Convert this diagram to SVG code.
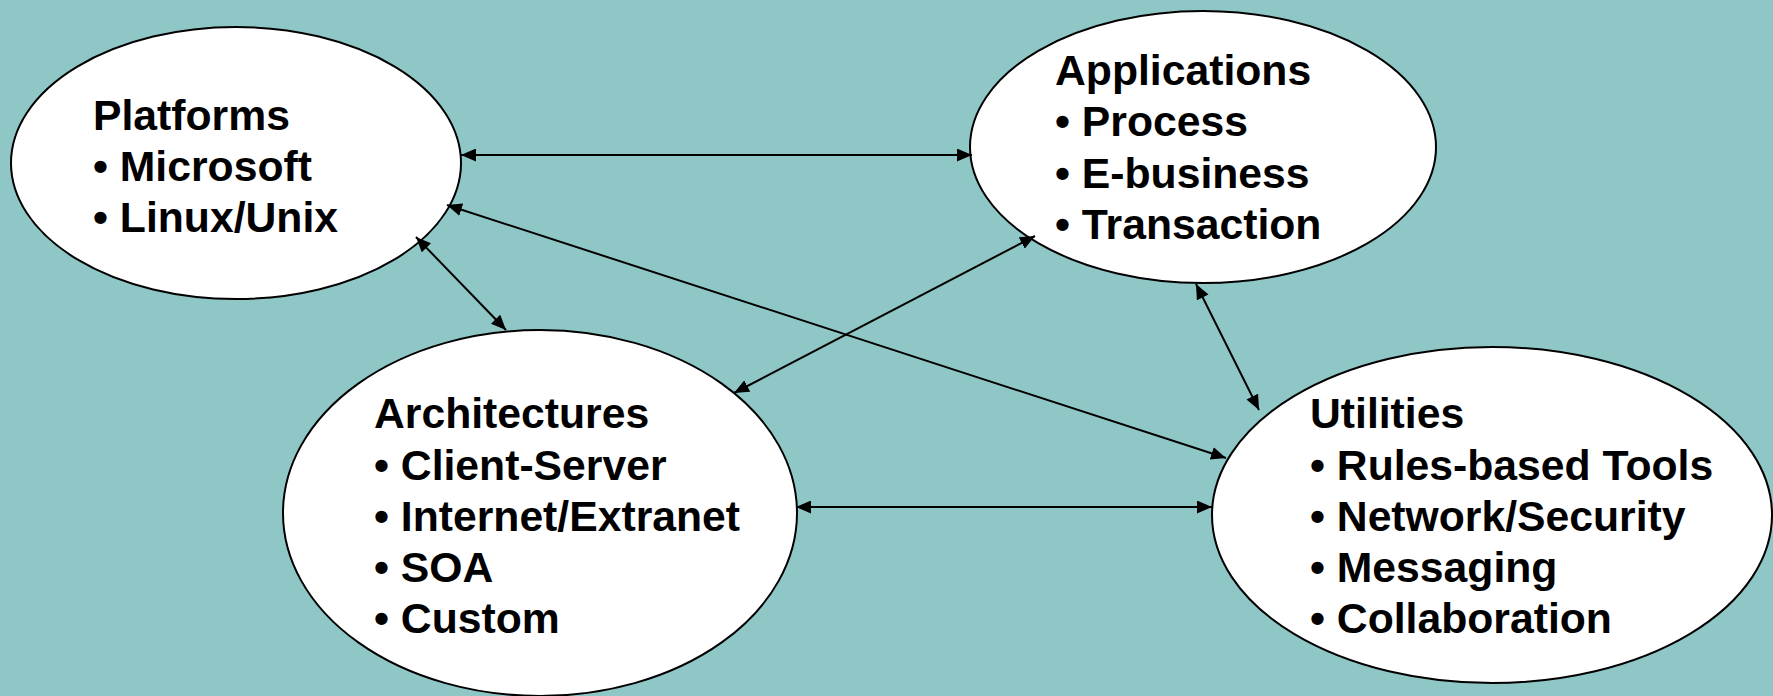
<svg xmlns="http://www.w3.org/2000/svg" width="1773" height="696" viewBox="0 0 1773 696">
<style>
.node{fill:#ffffff;stroke:#000000;stroke-width:2}
.lbl{font-family:"Liberation Sans",Arial,sans-serif;font-weight:bold;font-size:42.7px;fill:#000000}
.conn{stroke:#000000;stroke-width:2;fill:none;marker-start:url(#ah);marker-end:url(#ah)}
</style>
<defs>
<marker id="ah" viewBox="0 0 15 13" refX="15" refY="6.5" markerUnits="userSpaceOnUse" markerWidth="15" markerHeight="13" orient="auto-start-reverse">
<path d="M0,0 L15,6.5 L0,13 z" fill="#000000"/>
</marker>
</defs>
<rect x="0" y="0" width="1773" height="696" fill="#8FC6C6"/>
<g id="platforms">
<ellipse class="node" cx="236" cy="163" rx="225" ry="136"/>
<text class="lbl" x="93" y="130">Platforms</text>
<text class="lbl" x="93" y="181">• Microsoft</text>
<text class="lbl" x="93" y="232">• Linux/Unix</text>
</g>
<g id="applications">
<ellipse class="node" cx="1203" cy="147" rx="233" ry="136"/>
<text class="lbl" x="1055" y="85">Applications</text>
<text class="lbl" x="1055" y="136">• Process</text>
<text class="lbl" x="1055" y="188">• E-business</text>
<text class="lbl" x="1055" y="239">• Transaction</text>
</g>
<g id="architectures">
<ellipse class="node" cx="540" cy="513" rx="257" ry="183"/>
<text class="lbl" x="374" y="428">Architectures</text>
<text class="lbl" x="374" y="480">• Client-Server</text>
<text class="lbl" x="374" y="531">• Internet/Extranet</text>
<text class="lbl" x="374" y="582">• SOA</text>
<text class="lbl" x="374" y="633">• Custom</text>
</g>
<g id="utilities">
<ellipse class="node" cx="1492" cy="515" rx="280" ry="168"/>
<text class="lbl" x="1310" y="428">Utilities</text>
<text class="lbl" x="1310" y="480">• Rules-based Tools</text>
<text class="lbl" x="1310" y="531">• Network/Security</text>
<text class="lbl" x="1310" y="582">• Messaging</text>
<text class="lbl" x="1310" y="633">• Collaboration</text>
</g>
<g id="connectors">
<line class="conn" x1="461" y1="155" x2="972" y2="155"/>
<line class="conn" x1="447" y1="205" x2="1226" y2="458"/>
<line class="conn" x1="416" y1="237" x2="506" y2="330"/>
<line class="conn" x1="1035" y1="236" x2="734" y2="393"/>
<line class="conn" x1="1196" y1="284" x2="1259" y2="410"/>
<line class="conn" x1="796" y1="507" x2="1212" y2="507"/>
</g>
</svg>
